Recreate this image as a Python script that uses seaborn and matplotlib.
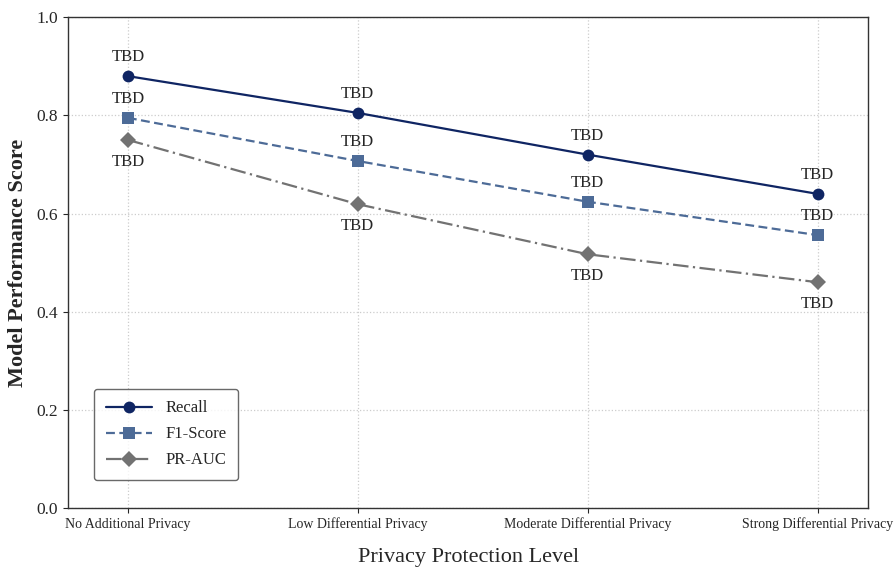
import pandas as pd
import matplotlib.pyplot as plt
import seaborn as sns

levels = ['No Additional Privacy', 'Low Differential Privacy',
          'Moderate Differential Privacy', 'Strong Differential Privacy']
recall = [0.88, 0.805, 0.72, 0.64]
f1_score = [0.795, 0.707, 0.624, 0.556]
pr_auc = [0.75, 0.619, 0.517, 0.46]
metrics = ['Recall', 'F1-Score', 'PR-AUC']

rows = []
for name, vals in zip(metrics, [recall, f1_score, pr_auc]):
    for i, v in enumerate(vals):
        rows.append({'Level': i, 'Score': v, 'Metric': name})
df = pd.DataFrame(rows)

sns.set_style('ticks')
plt.rcParams['font.family'] = ['Liberation Serif', 'DejaVu Serif']

palette = {'Recall': '#0f2563', 'F1-Score': '#4d6b97', 'PR-AUC': '#727272'}
markers = {'Recall': 'o', 'F1-Score': 's', 'PR-AUC': 'D'}
dashes = {'Recall': '', 'F1-Score': (4, 2), 'PR-AUC': (7, 2, 1, 2)}

fig, ax = plt.subplots(figsize=(8.96, 5.74), dpi=100)
sns.lineplot(data=df, x='Level', y='Score', hue='Metric', style='Metric',
             palette=palette, markers=markers, dashes=dashes,
             markersize=8.5, markeredgewidth=0, linewidth=1.6, ax=ax)

# value labels
for name, vals in zip(metrics, [recall, f1_score, pr_auc]):
    for i, v in enumerate(vals):
        if name == 'PR-AUC':
            ax.annotate('TBD', (i, v), xytext=(0, -10), textcoords='offset points',
                        ha='center', va='top', fontsize=12)
        else:
            ax.annotate('TBD', (i, v), xytext=(0, 8), textcoords='offset points',
                        ha='center', va='bottom', fontsize=12)

ax.set_xlim(-0.26, 3.22)
ax.set_ylim(0, 1.0)
ax.set_xticks(range(len(levels)))
ax.set_xticklabels(levels, fontsize=10)
ax.tick_params(axis='y', labelsize=12.5)
ax.grid(True, linestyle=':', color='#cccccc', linewidth=0.9)
for s in ax.spines.values():
    s.set_color('#333333')
    s.set_linewidth(1.0)

ax.set_xlabel('Privacy Protection Level', fontsize=16, labelpad=12)
ax.set_ylabel('Model Performance Score', fontsize=16, fontweight='bold', labelpad=6)

leg = ax.legend(title=None, loc='lower left', bbox_to_anchor=(0.022, 0.04),
                fontsize=12, frameon=True, borderpad=0.7, labelspacing=0.6,
                handlelength=2.8, edgecolor='#444444', fancybox=True)
leg.get_frame().set_linewidth(1.0)

plt.subplots_adjust(left=0.076, right=0.969, top=0.97, bottom=0.115)
plt.savefig('out.png', dpi=100)
